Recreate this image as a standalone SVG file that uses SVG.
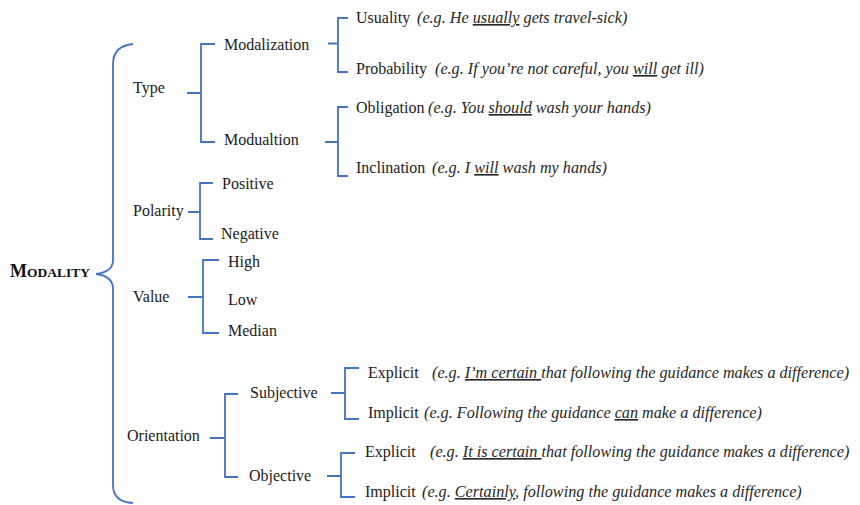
<svg xmlns="http://www.w3.org/2000/svg" width="860" height="505" viewBox="0 0 860 505">
<style>
.t{font-family:"Liberation Serif","Times New Roman",serif;font-size:16px;fill:#1a1a1a}
.e{font-family:"Liberation Serif","Times New Roman",serif;font-size:16.2px;font-style:italic;fill:#262626}
.u{text-decoration:underline}
.c path,.c line{fill:none;stroke:#4472C4;stroke-width:1.8}
.b{font-family:"Liberation Serif","Times New Roman",serif;font-weight:bold;fill:#111}
</style>
<rect width="860" height="505" fill="#ffffff"/>
<g class="c" id="connectors">
<path d="M133,44 Q113,46 113,64 L113,260 Q113,272 96,274 Q113,276 113,289 L113,485 Q113,502 133,503"/>
<path d="M187,93 H201 M215,44 H201 V142 H215"/>
<path d="M328,43.5 H338 M348,18 H338 V72 H348"/>
<path d="M325,142 H338 M348,107 H338 V176 H348"/>
<path d="M188,212 H200 M213,183 H200 V239 H213"/>
<path d="M188,297 H203 M219,260 H203 V333 H219"/>
<path d="M210,438 H225 M238,394 H225 V477 H238"/>
<path d="M331,393 H345 M359,368 H345 V419 H359"/>
<path d="M327,476 H341 M355,453 H341 V497 H355"/>
</g>
<g id="modality"><text class="b" x="10" y="277"><tspan font-size="18">M</tspan><tspan font-size="13.5">ODALITY</tspan></text></g>
<g id="type"><text class="t" x="133" y="93">Type</text></g>
<g id="modalization"><text class="t" x="224" y="50">Modalization</text></g>
<g id="modualtion"><text class="t" x="224" y="145">Modualtion</text></g>
<g id="usuality"><text class="t" x="356" y="23">Usuality</text><text class="e" x="417" y="23">(e.g. He <tspan class="u">usually</tspan> gets travel-sick)</text></g>
<g id="probability"><text class="t" x="356" y="74">Probability</text><text class="e" x="435" y="74">(e.g. If you’re not careful, you <tspan class="u">will</tspan> get ill)</text></g>
<g id="obligation"><text class="t" x="356" y="113">Obligation</text><text class="e" x="428" y="113">(e.g. You <tspan class="u">should</tspan> wash your hands)</text></g>
<g id="inclination"><text class="t" x="356" y="173">Inclination</text><text class="e" x="432" y="173">(e.g. I <tspan class="u">will</tspan> wash my hands)</text></g>
<g id="polarity"><text class="t" x="133" y="216">Polarity</text></g>
<g id="positive"><text class="t" x="222" y="189">Positive</text></g>
<g id="negative"><text class="t" x="221" y="239">Negative</text></g>
<g id="value"><text class="t" x="133" y="302">Value</text></g>
<g id="high"><text class="t" x="228" y="267">High</text></g>
<g id="low"><text class="t" x="228" y="305">Low</text></g>
<g id="median"><text class="t" x="228" y="336">Median</text></g>
<g id="orientation"><text class="t" x="127" y="441">Orientation</text></g>
<g id="subjective"><text class="t" x="250" y="398">Subjective</text></g>
<g id="objective"><text class="t" x="249" y="481">Objective</text></g>
<g id="subj-explicit"><text class="t" x="368" y="378">Explicit</text><text class="e" x="432" y="378">(e.g. <tspan class="u">I’m certain </tspan>that following the guidance makes a difference)</text></g>
<g id="subj-implicit"><text class="t" x="368" y="418">Implicit</text><text class="e" x="424" y="418">(e.g. Following the guidance <tspan class="u">can</tspan> make a difference)</text></g>
<g id="obj-explicit"><text class="t" x="365" y="457">Explicit</text><text class="e" x="430" y="457">(e.g. <tspan class="u">It is certain </tspan>that following the guidance makes a difference)</text></g>
<g id="obj-implicit"><text class="t" x="365" y="497">Implicit</text><text class="e" x="422" y="497">(e.g. <tspan class="u">Certainly</tspan>, following the guidance makes a difference)</text></g>
</svg>
